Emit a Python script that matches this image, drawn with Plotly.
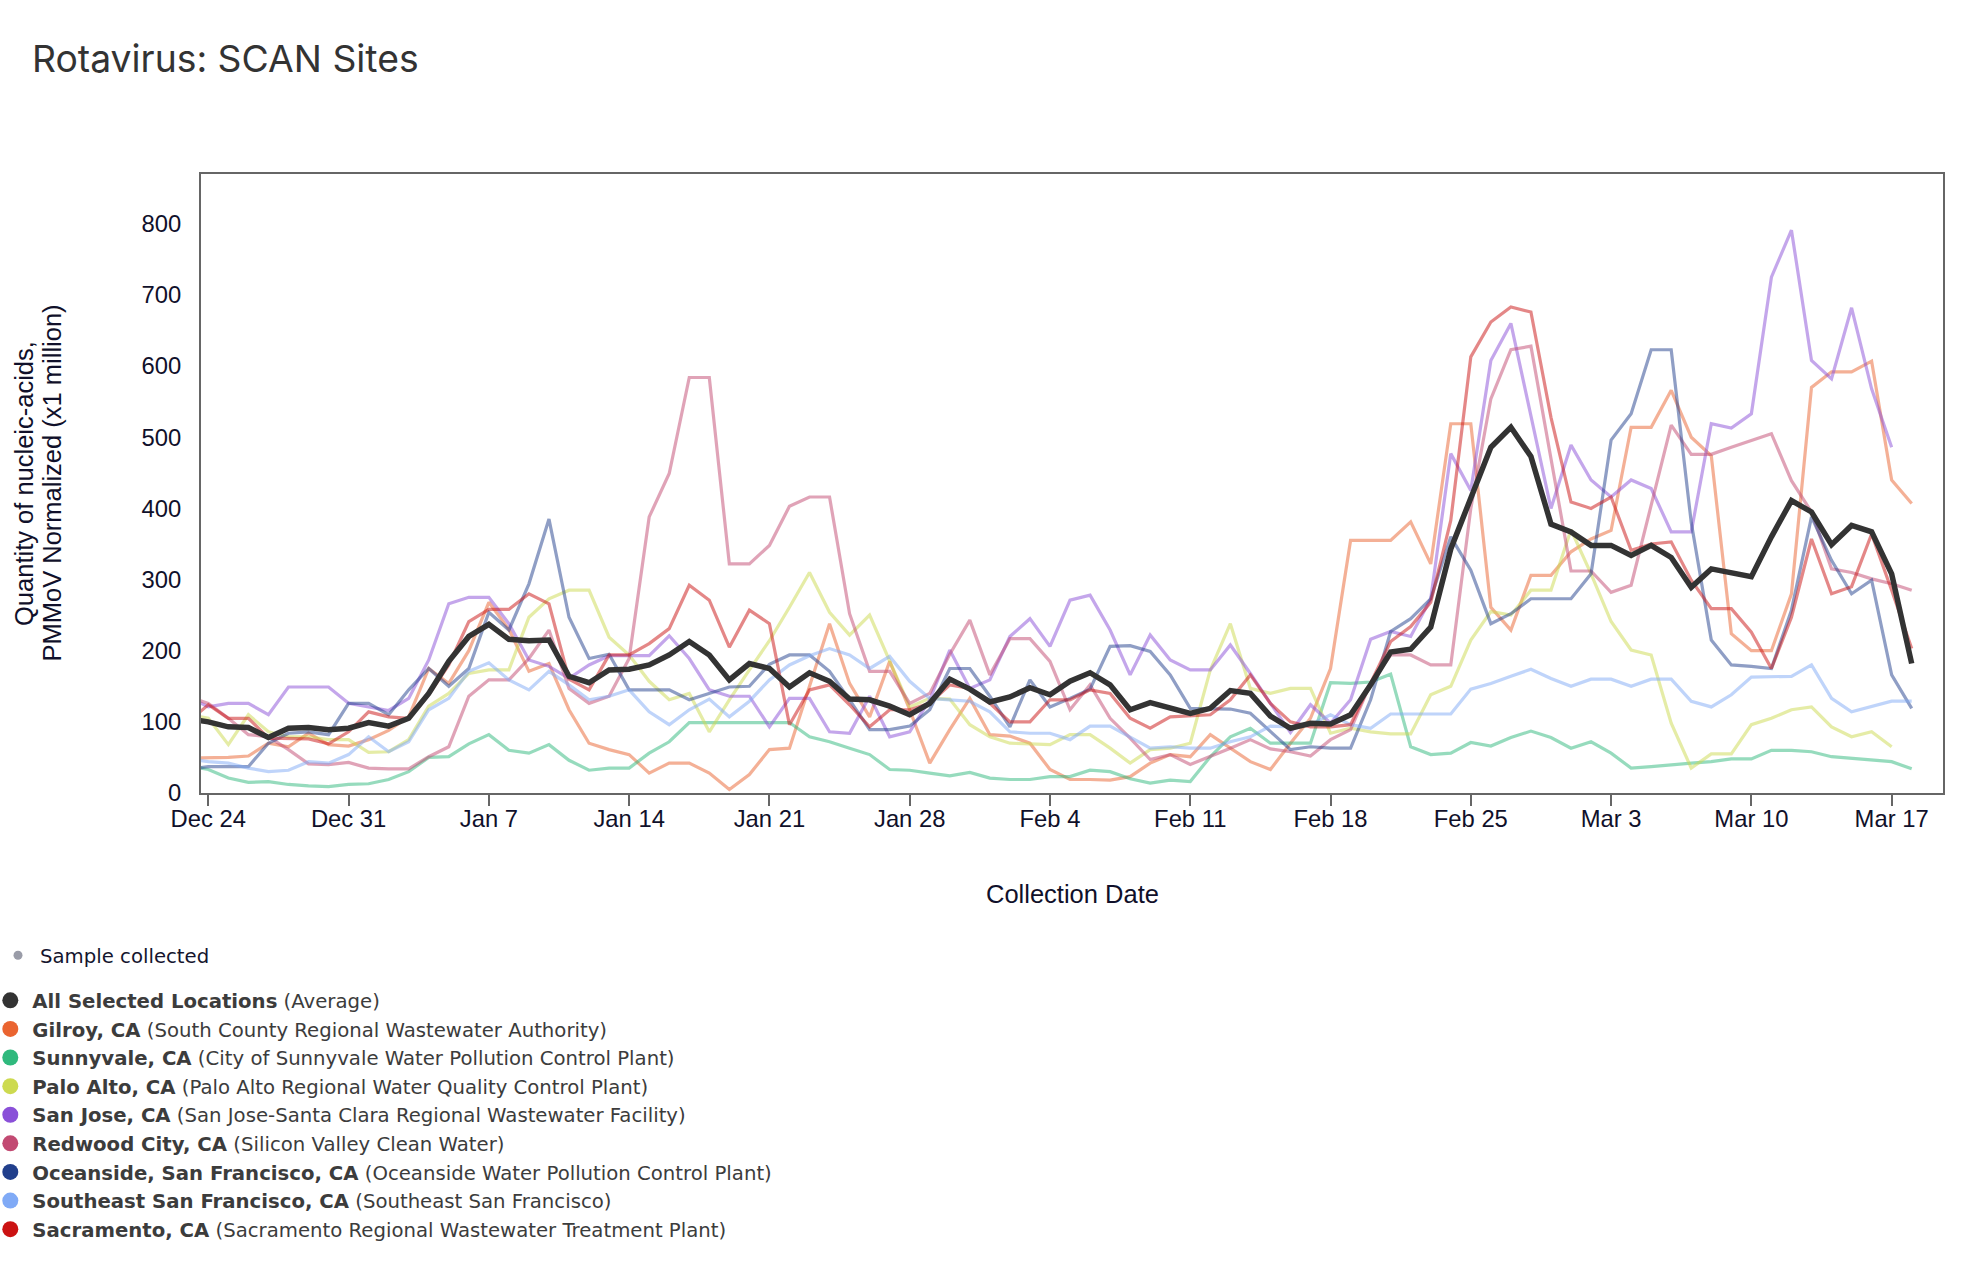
import pandas as pd
import plotly.graph_objects as go

# ---------------- data ----------------
dates = pd.date_range("2023-12-23", "2024-03-18", freq="D")

x_tick_dates = pd.date_range("2023-12-24", "2024-03-17", freq="7D")
x_tick_labels = ["Dec 24", "Dec 31", "Jan 7", "Jan 14", "Jan 21", "Jan 28", "Feb 4",
                 "Feb 11", "Feb 18", "Feb 25", "Mar 3", "Mar 10", "Mar 17"]
y_tick_values = [0, 100, 200, 300, 400, 500, 600, 700, 800]

avg = [104, 100, 93, 92, 78, 91, 92, 89, 91, 99, 94,
       105, 140, 185, 220, 237, 216, 214, 215, 164, 155,
       173, 174, 180, 194, 213, 194, 159, 182, 175, 149,
       169, 157, 132, 131, 122, 110, 126, 160, 146, 128,
       135, 148, 138, 157, 169, 152, 117, 127, 119, 112,
       119, 144, 140, 108, 91, 98, 97, 110, 152, 198,
       202, 233, 343, 416, 486, 514, 473, 378, 367, 348,
       348, 334, 348, 331, 289, 315, 309, 304, 360, 411,
       395, 349, 376, 367, 308, 182]

gilroy = [49, 49, 50, 52, 70, 65, 84, 68, 66, 75, 88,
          107, 175, 154, 200, 268, 230, 171, 182, 117, 70,
          61, 54, 28, 42, 42, 28, 5, 26, 61, 63,
          150, 238, 154, 107, 185, 117, 42, 89, 133, 82,
          80, 70, 33, 19, 19, 18, 23, 42, 54, 51,
          82, 63, 44, 33, 70, 105, 175, 355, 355, 355,
          381, 322, 519, 519, 261, 229, 306, 306, 339, 357,
          369, 514, 514, 566, 500, 474, 224, 200, 200, 280,
          570, 592, 592, 607, 440, 407]

sunnyvale = [38, 33, 21, 15, 16, 12, 10, 9, 12, 13, 19,
             30, 50, 51, 69, 82, 60, 56, 68, 46, 32,
             35, 35, 56, 72, 99, 99, 99, 99, 99, 99,
             79, 72, 63, 54, 33, 32, 28, 24, 29, 21,
             19, 19, 23, 23, 32, 30, 20, 14, 18, 16,
             51, 79, 91, 70, 70, 70, 155, 154, 156, 167,
             65, 54, 56, 71, 66, 78, 87, 78, 63, 72,
             56, 35, 37, 40, 42, 44, 48, 48, 60, 60,
             58, 51, 49, 47, 44, 34]

palo_alto = [110, 105, 68, 110, 86, 79, 79, 75, 75, 57, 58,
             75, 122, 140, 168, 173, 173, 247, 273, 285, 285,
             219, 194, 157, 131, 140, 86, 131, 173, 214, 261,
             310, 254, 222, 250, 185, 121, 133, 132, 96, 79,
             70, 69, 68, 82, 82, 63, 42, 61, 63, 70,
             173, 238, 147, 140, 147, 147, 84, 91, 86, 83,
             83, 138, 150, 215, 255, 250, 285, 285, 370, 308,
             241, 201, 194, 98, 35, 55, 55, 96, 105, 117,
             121, 93, 79, 86, 65, None]

san_jose = [135, 121, 126, 126, 110, 149, 149, 149, 126, 121, 116,
            133, 187, 266, 275, 275, 238, 187, 178, 161, 180,
            193, 193, 193, 221, 189, 145, 136, 136, 93, 133,
            133, 86, 84, 136, 79, 86, 131, 201, 147, 159,
            220, 245, 206, 271, 278, 229, 166, 222, 187, 173,
            173, 208, 168, 126, 85, 124, 98, 131, 216, 227,
            220, 273, 477, 425, 608, 660, 528, 400, 489, 440,
            416, 440, 428, 367, 367, 519, 513, 533, 725, 791,
            608, 582, 682, 568, 486, None]

redwood_city = [135, 126, 105, 82, 79, 61, 41, 40, 43, 35, 34,
                34, 51, 65, 136, 159, 159, 189, 229, 147, 126,
                136, 189, 388, 449, 584, 584, 322, 322, 348, 403,
                416, 416, 252, 171, 171, 126, 140, 195, 243, 166,
                217, 217, 185, 117, 152, 105, 77, 47, 54, 40,
                51, 63, 75, 62, 58, 52, 75, 89, 154, 194,
                194, 180, 180, 400, 554, 623, 628, 470, 312, 312,
                282, 292, 404, 517, 476, 476, 486, 496, 505, 439,
                395, 315, 310, 301, 294, 285]

oceanside = [33, 37, 37, 37, 70, 84, 86, 82, 126, 126, 110,
             145, 175, 150, 175, 254, 229, 294, 385, 247, 189,
             195, 145, 145, 145, 131, 140, 149, 150, 181, 194,
             194, 171, 131, 89, 89, 94, 117, 175, 175, 136,
             93, 159, 121, 133, 146, 206, 207, 199, 166, 119,
             119, 118, 112, 86, 61, 65, 63, 63, 131, 227,
             245, 273, 360, 313, 238, 252, 273, 273, 273, 308,
             496, 533, 623, 623, 380, 215, 180, 178, 175, 257,
             388, 327, 280, 299, 166, 119]

southeast_sf = [48, 44, 42, 35, 30, 32, 44, 42, 54, 79, 58,
                72, 117, 133, 171, 183, 159, 145, 171, 152, 131,
                136, 145, 114, 96, 117, 132, 107, 129, 159, 180,
                193, 203, 194, 175, 192, 157, 133, 131, 129, 114,
                86, 84, 84, 75, 94, 94, 79, 63, 65, 63,
                63, 72, 79, 94, 93, 96, 110, 96, 91, 111,
                111, 111, 111, 146, 154, 164, 174, 161, 150, 160,
                160, 150, 160, 160, 129, 121, 138, 163, 163, 164,
                180, 133, 114, 122, 129, 129]

sacramento = [100, 124, 105, 105, 77, 76, 76, 69, 86, 114, 107,
              105, 138, 180, 241, 258, 258, 280, 266, 160, 145,
              194, 194, 210, 231, 292, 271, 205, 257, 238, 96,
              145, 152, 124, 93, 117, 117, 126, 152, 147, 126,
              100, 100, 131, 131, 145, 140, 105, 91, 107, 108,
              110, 131, 166, 126, 100, 93, 93, 96, 154, 213,
              234, 268, 383, 613, 662, 683, 676, 528, 409, 400,
              416, 341, 350, 353, 299, 259, 259, 226, 175, 247,
              357, 280, 290, 364, 285, 203]

site_names = ["Gilroy, CA", "Sunnyvale, CA", "Palo Alto, CA", "San Jose, CA",
              "Redwood City, CA", "Oceanside, San Francisco, CA",
              "Southeast San Francisco, CA", "Sacramento, CA"]
plant_names = ["South County Regional Wastewater Authority",
               "City of Sunnyvale Water Pollution Control Plant",
               "Palo Alto Regional Water Quality Control Plant",
               "San Jose-Santa Clara Regional Wastewater Facility",
               "Silicon Valley Clean Water",
               "Oceanside Water Pollution Control Plant",
               "Southeast San Francisco",
               "Sacramento Regional Wastewater Treatment Plant"]
site_colors = ["#EA6430", "#2FB97D", "#CDDA50", "#8A50D8", "#C24A72",
               "#213F8C", "#80AAF6", "#CB1212"]
site_values = [gilroy, sunnyvale, palo_alto, san_jose, redwood_city,
               oceanside, southeast_sf, sacramento]

avg_color = "#333333"
sample_color = "#9A9CA8"

# ---------------- figure ----------------
W, H = 1984, 1262
ML, MR, MT, MB = 201, 41, 174, 469
plot_w = W - ML - MR
plot_h = H - MT - MB

fig = go.Figure()

for name, color, vals in zip(site_names, site_colors, site_values):
    fig.add_trace(go.Scatter(x=dates, y=vals, mode="lines", name=name,
                             line=dict(color=color, width=3.2),
                             opacity=0.5, showlegend=False, hoverinfo="skip"))

fig.add_trace(go.Scatter(x=dates, y=avg, mode="lines", name="All Selected Locations",
                         line=dict(color=avg_color, width=5.5), showlegend=False))

# legend entries
fig.add_trace(go.Scatter(x=[None], y=[None], mode="markers", name="Sample collected",
                         marker=dict(color=sample_color, size=9), legend="legend"))
fig.add_trace(go.Scatter(x=[None], y=[None], mode="markers",
                         name="<b>All Selected Locations</b> (Average)",
                         marker=dict(color=avg_color, size=16), legend="legend2"))
for name, plant, color in zip(site_names, plant_names, site_colors):
    fig.add_trace(go.Scatter(x=[None], y=[None], mode="markers",
                             name=f"<b>{name}</b> ({plant})",
                             marker=dict(color=color, size=16), legend="legend2"))

tick_font = dict(family="Liberation Sans, Arial, sans-serif", size=23.8, color="#10102A")
title_font = dict(family="Liberation Sans, Arial, sans-serif", size=25.5, color="#10102A")
legend_font = dict(family="DejaVu Sans, sans-serif", size=19.7, color="#3C3C3C")
sample_font = dict(family="DejaVu Sans, sans-serif", size=19.7, color="#15152E")


def px_x(p):
    return (p - ML) / plot_w


def px_y(p):
    return (H - MB - p) / plot_h


fig.update_layout(
    width=W, height=H,
    margin=dict(l=ML, r=MR, t=MT, b=MB, pad=0, autoexpand=False),
    paper_bgcolor="white", plot_bgcolor="white",
    title=dict(text="Rotavirus: SCAN Sites", x=32 / W, xanchor="left",
               y=1 - 59 / H, yanchor="middle",
               font=dict(family="Inter, sans-serif", size=37.3, color="#333333")),
    xaxis=dict(range=["2023-12-23 15:15", "2024-03-19 13:30"],
               tickvals=x_tick_dates, ticktext=x_tick_labels,
               ticks="outside", ticklen=11, tickwidth=1.5, tickcolor="#666666",
               ticklabelstandoff=-8,
               showline=True, mirror=True, linecolor="#666666", linewidth=2,
               showgrid=False, zeroline=False, tickfont=tick_font),
    yaxis=dict(range=[0, 870], tickvals=y_tick_values,
               ticks="", showline=True, mirror=True, linecolor="#666666", linewidth=2,
               showgrid=False, zeroline=False, tickfont=tick_font, ticklabelstandoff=13),
    legend=dict(x=px_x(-4), xanchor="left", y=px_y(936), yanchor="top",
                itemwidth=34, font=sample_font, bgcolor="rgba(0,0,0,0)",
                itemclick=False, itemdoubleclick=False),
    legend2=dict(x=px_x(-11.7), xanchor="left", y=px_y(981), yanchor="top",
                 itemwidth=34, font=legend_font, bgcolor="rgba(0,0,0,0)",
                 itemclick=False, itemdoubleclick=False),
    annotations=[
        dict(text="Collection Date", xref="paper", yref="paper",
             x=0.5, y=px_y(894), xanchor="center", yanchor="middle",
             showarrow=False, font=title_font),
        dict(text="Quantity of nucleic-acids,",
             xref="paper", yref="paper", x=px_x(23.5), y=0.5,
             xanchor="center", yanchor="middle", textangle=-90,
             showarrow=False, font=title_font),
        dict(text="PMMoV Normalized (x1 million)",
             xref="paper", yref="paper", x=px_x(51), y=0.5,
             xanchor="center", yanchor="middle", textangle=-90,
             showarrow=False, font=title_font),
    ],
)

fig.write_html("out.html",
               config={"displayModeBar": False},
               post_script="document.body.style.margin='0';document.body.style.padding='0';")
